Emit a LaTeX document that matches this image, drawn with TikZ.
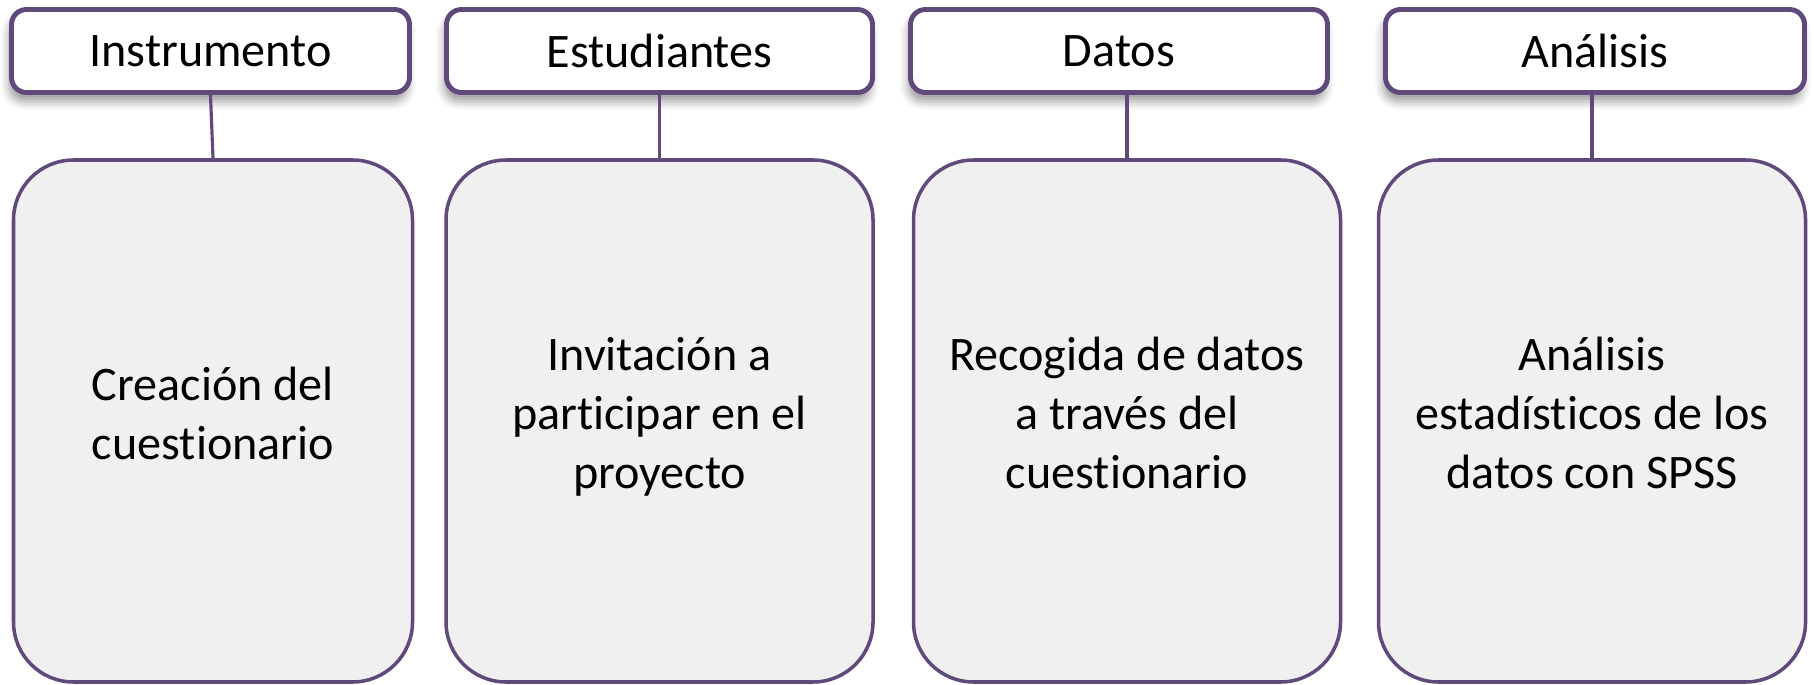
\documentclass[tikz,border=0pt]{standalone}
\usepackage{fontspec}
\setmainfont{Carlito}[RawFeature={-liga;-clig;-calt}]
\usetikzlibrary{shadows.blur}
\definecolor{marco}{HTML}{604A7B}
\definecolor{relleno}{HTML}{F0F0F0}
\tikzset{
  titulo/.style={draw=marco, line width=1.4pt, rounded corners=0.15cm, fill=white,
    minimum height=0.83cm, inner sep=0pt, font=\fontsize{13.7}{16.8}\selectfont,
    blur shadow={shadow xshift=-0.6pt, shadow yshift=-2.5pt, shadow blur radius=2.5pt}},
  tarea/.style={draw=marco, line width=1pt, rounded corners=0.6cm, fill=relleno,
    minimum height=5.22cm, inner sep=0pt, align=center, font=\fontsize{13.7}{16.8}\selectfont,
    execute at end node={\rule[-0.16cm]{0pt}{0pt}}},
  enlace/.style={draw=marco, line width=0.9pt}
}
\begin{document}
\begin{tikzpicture}
\useasboundingbox (0,0) rectangle (18.14,6.84);
% cabeceras
\node[titulo, minimum width=3.98cm] (instrumento) at (2.105,6.33) {Instrumento};
\node[titulo, minimum width=4.26cm] (estudiantes) at (6.595,6.33) {Estudiantes};
\node[titulo, minimum width=4.17cm] (datos) at (11.19,6.33) {Datos};
\node[titulo, minimum width=4.19cm] (analisis) at (15.95,6.33) {Análisis};
% cajas de tareas
\node[tarea, minimum width=3.99cm] (creacion) at (2.13,2.63) {Creación del\\cuestionario};
\node[tarea, minimum width=4.27cm] (invitacion) at (6.595,2.63) {Invitación a\\participar en el\\proyecto};
\node[tarea, minimum width=4.27cm] (recogida) at (11.27,2.63) {Recogida de datos\\a través del\\cuestionario};
\node[tarea, minimum width=4.27cm] (spss) at (15.92,2.63) {Análisis\\estadísticos de los\\datos con SPSS};
% enlaces
\draw[enlace] (instrumento.south) -- (creacion.north);
\draw[enlace] (estudiantes.south) -- (invitacion.north);
\draw[enlace] (recogida.north |- datos.south) -- (recogida.north);
\draw[enlace] (spss.north |- analisis.south) -- (spss.north);
\end{tikzpicture}
\end{document}
